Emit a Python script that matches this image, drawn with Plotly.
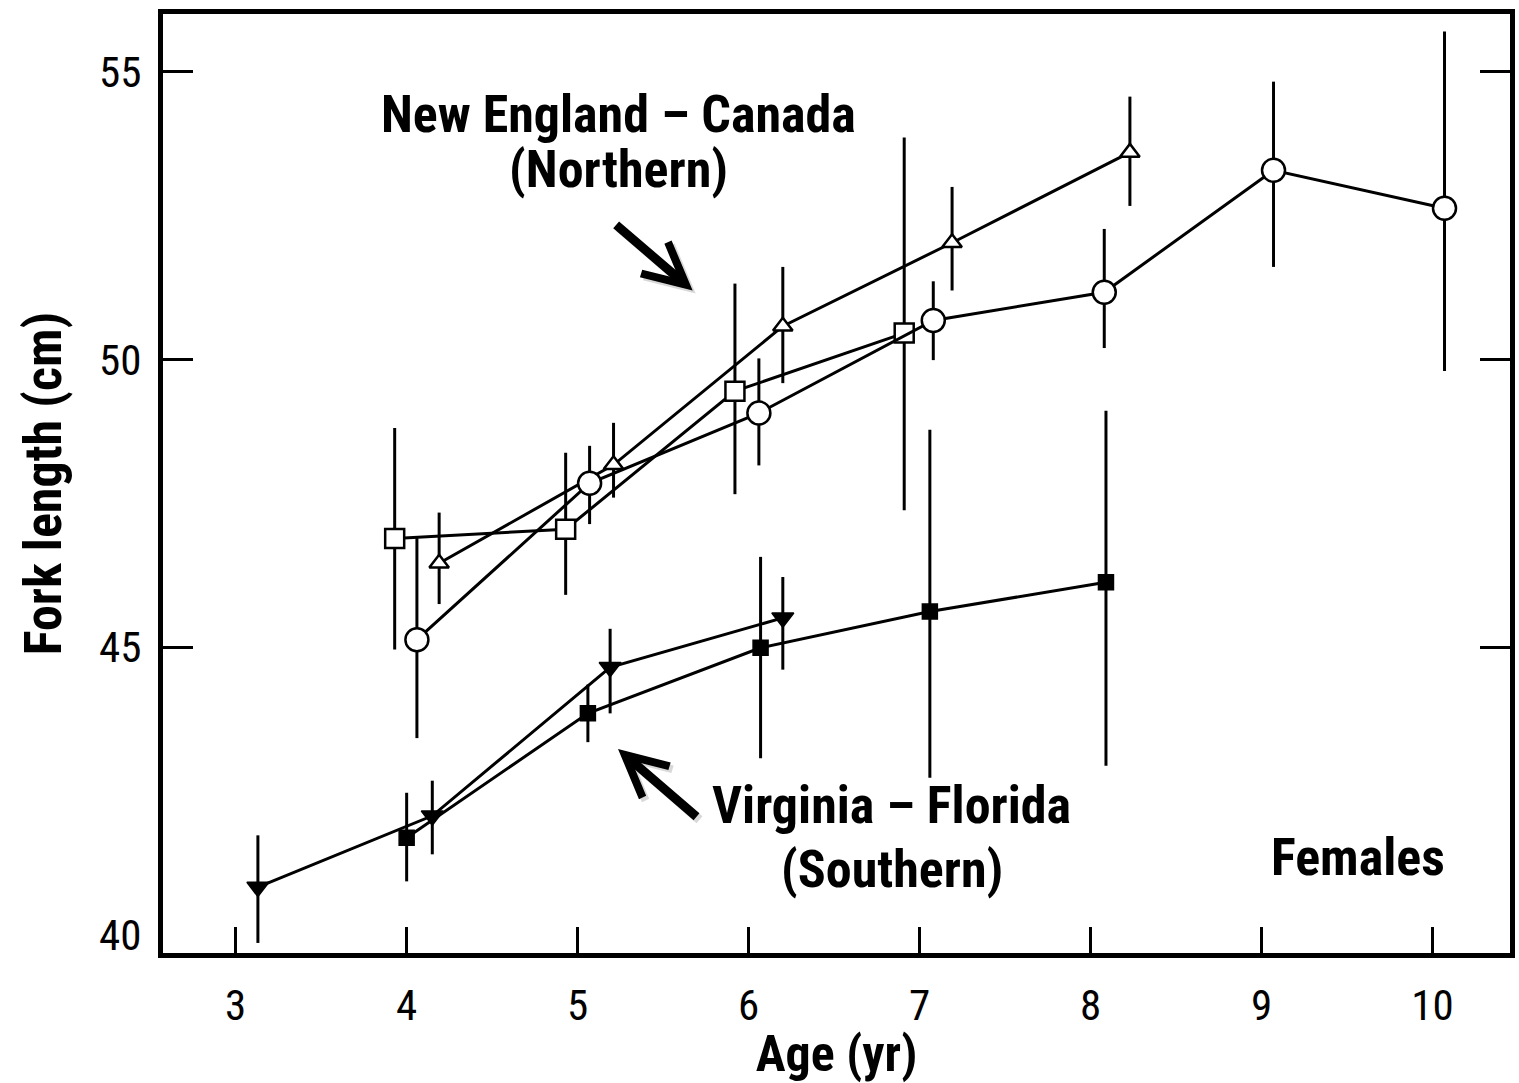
import plotly.graph_objects as go

# ---------------- Northern stock: New England – Canada ----------------
# open triangles
north_tri_age = [4.19, 5.21, 6.20, 7.19, 8.23]
north_tri_len = [46.46, 48.17, 50.58, 52.03, 53.60]
north_tri_hi = [47.34, 48.90, 51.61, 53.00, 54.57]
north_tri_lo = [45.75, 47.60, 49.59, 51.20, 52.67]

# open circles
north_circ_age = [4.06, 5.07, 6.06, 7.08, 8.08, 9.07, 10.07]
north_circ_len = [45.13, 47.85, 49.07, 50.68, 51.17, 53.29, 52.63]
north_circ_hi = [46.90, 48.50, 50.02, 51.36, 52.27, 54.83, 55.70]
north_circ_lo = [43.42, 47.14, 48.16, 49.99, 50.20, 51.61, 49.80]

# open squares
north_sq_age = [3.93, 4.93, 5.92, 6.91]
north_sq_len = [46.89, 47.05, 49.45, 50.46]
north_sq_hi = [48.81, 48.38, 51.32, 53.86]
north_sq_lo = [44.96, 45.91, 47.66, 47.38]

# ---------------- Southern stock: Virginia – Florida ----------------
# filled inverted triangles
south_tri_age = [3.13, 4.15, 5.19, 6.20]
south_tri_len = [40.83, 42.07, 44.65, 45.51]
south_tri_hi = [41.73, 42.68, 45.32, 46.22]
south_tri_lo = [39.86, 41.40, 43.85, 44.61]

# filled squares
south_sq_age = [4.00, 5.06, 6.07, 7.06, 8.09]
south_sq_len = [41.69, 43.85, 44.99, 45.62, 46.13]
south_sq_hi = [42.47, 44.35, 46.57, 48.78, 49.11]
south_sq_lo = [40.93, 43.35, 43.07, 42.73, 42.94]

age_ticks = [3, 4, 5, 6, 7, 8, 9, 10]
length_ticks = [40, 45, 50, 55]

NARROW = "Liberation Sans Narrow, Arial Narrow, Roboto Condensed, DejaVu Sans Condensed, Liberation Sans, sans-serif"
INK = "black"


def series(ages, means, hi, lo, symbol, size, fill, line_w=1.5):
    return go.Scatter(
        x=ages,
        y=means,
        mode="lines+markers",
        line=dict(color=INK, width=3),
        marker=dict(symbol=symbol, size=size, color=fill,
                    line=dict(color=INK, width=line_w)),
        error_y=dict(
            type="data",
            symmetric=False,
            array=[h - m for h, m in zip(hi, means)],
            arrayminus=[m - l for m, l in zip(means, lo)],
            width=0,
            thickness=3,
            color=INK,
        ),
        showlegend=False,
        cliponaxis=True,
    )


fig = go.Figure()
fig.add_trace(series(south_sq_age, south_sq_len, south_sq_hi, south_sq_lo,
                     "square", 15, INK))
fig.add_trace(series(south_tri_age, south_tri_len, south_tri_hi, south_tri_lo,
                     "triangle-down", 19, INK))
fig.add_trace(series(north_sq_age, north_sq_len, north_sq_hi, north_sq_lo,
                     "square", 19, "white", 2.5))
fig.add_trace(series(north_tri_age, north_tri_len, north_tri_hi, north_tri_lo,
                     "triangle-up", 17, "white", 2.5))
fig.add_trace(series(north_circ_age, north_circ_len, north_circ_hi, north_circ_lo,
                     "circle", 23, "white", 2.5))

bold = dict(family=NARROW, size=52, color=INK, weight="bold")


def label(text, x, y):
    fig.add_annotation(text=text, x=x, y=y, xref="paper", yref="paper",
                       xanchor="center", yanchor="middle", showarrow=False,
                       font=bold)


label("New England – Canada", 0.338, 0.893)
label("(Northern)", 0.338, 0.834)
label("Virginia – Florida", 0.541, 0.157)
label("(Southern)", 0.541, 0.089)
label("Females", 0.887, 0.102)


def arrow(x, y, ax, ay, color, shift=0):
    fig.add_annotation(x=x, y=y, xref="paper", yref="paper", ax=ax, ay=ay,
                       text="", showarrow=True, arrowhead=5, arrowsize=0.9,
                       arrowwidth=9, arrowcolor=color, xshift=shift,
                       yshift=-shift)


# soft drop shadows under the pointer arrows, then the arrows themselves
arrow(0.3932, 0.7055, -78, -67, "rgba(0,0,0,0.15)", 3)
arrow(0.3378, 0.2172, 80, 69, "rgba(0,0,0,0.15)", 3)
arrow(0.3932, 0.7055, -78, -67, INK)
arrow(0.3378, 0.2172, 80, 69, INK)

fig.update_xaxes(
    range=[2.575, 10.453],
    tickmode="array", tickvals=age_ticks,
    ticks="inside", ticklen=26, tickwidth=3, tickcolor=INK,
    showline=True, linewidth=5, linecolor=INK, mirror=True,
    showgrid=False, zeroline=False,
    tickfont=dict(family=NARROW, size=43, color=INK),
    ticklabelstandoff=10,
    title=dict(text="Age (yr)", font=dict(bold, size=50), standoff=14),
)
fig.update_yaxes(
    range=[39.685, 56.006],
    tickmode="array", tickvals=length_ticks,
    ticks="",
    minor=dict(tickmode="array", tickvals=[45, 50, 55], ticks="inside",
               ticklen=30, tickwidth=3, tickcolor=INK, showgrid=False),
    showline=True, linewidth=5, linecolor=INK, mirror="ticks",
    showgrid=False, zeroline=False,
    tickfont=dict(family=NARROW, size=43, color=INK),
    ticklabelstandoff=8,
    title=dict(text="Fork length (cm)", font=bold, standoff=22),
)

fig.update_layout(
    width=1519, height=1083,
    margin=dict(l=163, r=4, t=14, b=125),
    paper_bgcolor="white", plot_bgcolor="white",
    showlegend=False,
)

fig.write_html("out.html")
